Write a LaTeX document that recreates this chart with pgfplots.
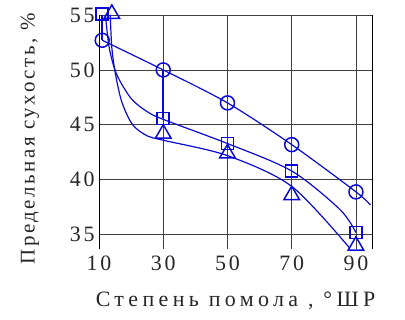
\documentclass[border=0pt]{standalone}
\usepackage{fontspec}
\setmainfont{Liberation Serif}
\newfontfamily\spaced{Liberation Serif}[LetterSpace=12]
\newfontfamily\wide{Liberation Serif}[LetterSpace=20]
\usepackage{pgfplots}
\pgfplotsset{compat=1.18}
\definecolor{lineblue}{RGB}{10,10,215}
\begin{document}
\begin{tikzpicture}
\begin{axis}[
  scale only axis, width=273bp, height=234bp,
  xmin=10, xmax=95, ymin=33.7, ymax=55,
  xtick={10,30,50,70,90}, ytick={35,40,45,50,55},
  grid=major, grid style={black!75, line width=0.8pt},
  separate axis lines,
  every outer x axis line/.append style={draw=none},
  y axis line style={black, line width=1pt},
  tick style={draw=none},
  clip=false,
  /pgf/number format/assume math mode=true,
  ticklabel style={font=\spaced\fontsize{22}{23}\selectfont, text=black!85},
  xticklabel style={yshift=-3bp},
  yticklabel style={xshift=-1bp},
  xlabel={Степень помола , °ШР},
  ylabel={Предельная сухость, \%},
  label style={text=black!85},
  xlabel style={font=\wide\fontsize{22}{23}\selectfont, yshift=-15bp},
  ylabel style={font=\spaced\fontsize{21}{22}\selectfont, yshift=24bp, xshift=-7bp},
]
% circle curve
\addplot[lineblue, line width=1.2pt, smooth, tension=0.5] coordinates {
 (11,52.7) (30,50) (50,47) (70,43.2) (90,38.9) (94.5,37.7)};
% square curve
\addplot[lineblue, line width=1.2pt, smooth, tension=0.5] coordinates {
 (12,55) (13.2,52) (15.5,49.6) (20,47.4) (25,46.2) (30,45.5) (50,43.3) (70,40.8) (85,37.3) (90,35.2)};
% triangle curve
\addplot[lineblue, line width=1.2pt, smooth, tension=0.5] coordinates {
 (13.5,55) (14,52) (15.2,49.5) (17.2,47) (20.5,45) (25,44) (30,43.6) (50,42.2) (70,39.4) (88,33.8)};
% connectors
\addplot[lineblue, line width=1.5pt] coordinates {(30,50) (30,45.6)};
\addplot[lineblue, line width=1.5pt] coordinates {(11,55) (11,52.7)};
% markers
\addplot[only marks, mark=o, mark size=7bp, lineblue, mark options={line width=1.5pt, fill=white}] coordinates {
 (11,52.7) (30,50) (50,47) (70,43.2) (90,38.9)};
\addplot[only marks, mark=square, mark size=6bp, lineblue, mark options={line width=1.5pt, fill=white}] coordinates {
 (11,55.1) (30,45.6) (50,43.3) (70,40.8) (90,35.2)};
\addplot[only marks, mark=triangle, mark size=9bp, lineblue, mark options={line width=1.5pt, fill=white}] coordinates {
 (14,55.1) (30,44.2) (50,42.4) (70,38.6) (90,34.0)};
\end{axis}
\pgfresetboundingbox
\path[use as bounding box] ([shift={(-99bp,-70bp)}]current axis.south west) rectangle ([shift={(33bp,15bp)}]current axis.north east);
\end{tikzpicture}
\end{document}
